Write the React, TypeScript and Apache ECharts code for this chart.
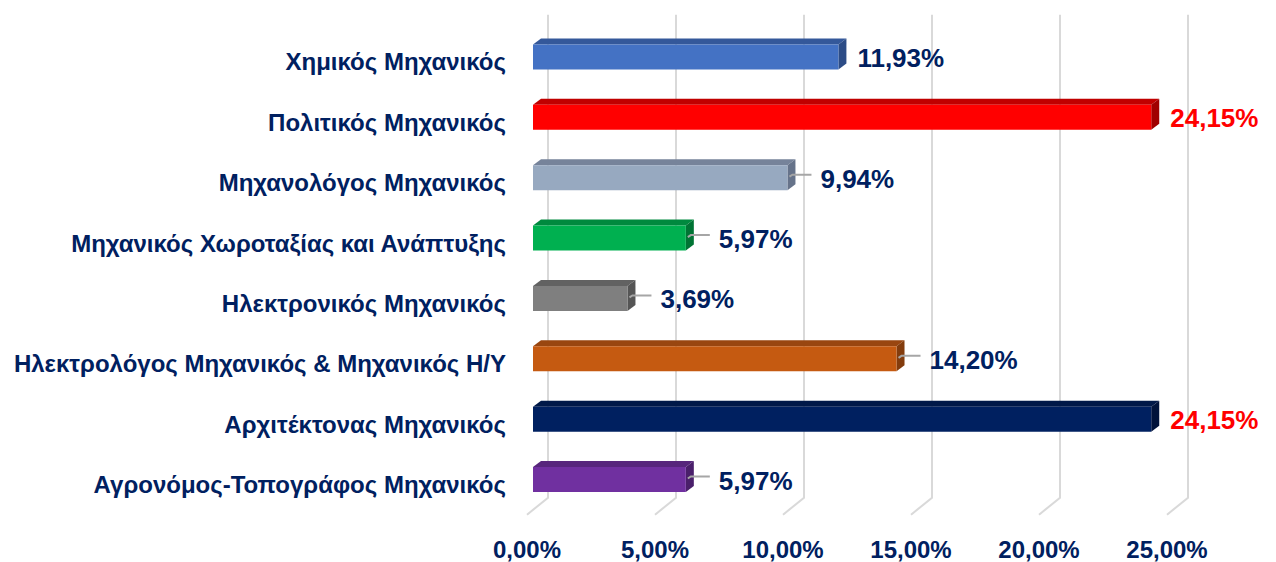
import React, { useEffect, useRef } from "react";
import * as echarts from "echarts";

const categories = [
  "Χημικός Μηχανικός",
  "Πολιτικός Μηχανικός",
  "Μηχανολόγος Μηχανικός",
  "Μηχανικός Χωροταξίας και Ανάπτυξης",
  "Ηλεκτρονικός Μηχανικός",
  "Ηλεκτρολόγος Μηχανικός & Μηχανικός Η/Υ",
  "Αρχιτέκτονας Μηχανικός",
  "Αγρονόμος-Τοπογράφος Μηχανικός",
];
const values = [11.93, 24.15, 9.94, 5.97, 3.69, 14.2, 24.15, 5.97];
const tickValues = [0, 5, 10, 15, 20, 25];

const frontColors = ["#4472C4", "#FF0000", "#97A9C0", "#00B050", "#7F7F7F", "#C55A11", "#002060", "#7030A0"];
const topColors = ["#34589A", "#C00000", "#76839A", "#00893E", "#626262", "#994610", "#001848", "#57267C"];
const sideColors = ["#2C4C86", "#A00000", "#66738A", "#007434", "#555555", "#833C0D", "#00123A", "#4A1F6B"];
const leaders = [false, false, true, true, true, true, false, true];

const NAVY = "#002060";
const FONT = '"Liberation Sans", Arial, sans-serif';

const fmt = (v: number) => v.toFixed(2).replace(".", ",") + "%";

export default function App() {
  const ref = useRef<HTMLDivElement>(null);
  useEffect(() => {
    document.body.style.margin = "0";
    const chart = echarts.init(ref.current!, null, { renderer: "svg" });
    const maxV = Math.max(...values);
    chart.setOption({
      animation: false,
      backgroundColor: "#ffffff",
      grid: { left: 533, width: 640, top: 26.8, height: 482.9, containLabel: false },
      xAxis: {
        type: "value",
        min: 0,
        max: 25,
        interval: 5,
        axisLine: { show: false },
        axisTick: { show: false },
        splitLine: { show: false },
        axisLabel: {
          formatter: (v: number) => fmt(v),
          color: NAVY,
          fontWeight: "bold",
          fontSize: 24,
          fontFamily: FONT,
          margin: 28,
          padding: [0, 12, 0, 0],
        },
      },
      yAxis: {
        type: "category",
        data: categories,
        inverse: true,
        axisLine: { show: false },
        axisTick: { show: false },
        splitLine: { show: false },
        axisLabel: { show: false },
      },
      series: [
        {
          type: "custom",
          z: 1,
          clip: false,
          silent: true,
          data: tickValues.map((v) => [v, 0]),
          renderItem: (params: any, api: any) => {
            const cs = params.coordSys;
            const p = api.coord([api.value(0), 0]);
            const topY = cs.y - 12;
            const botY = cs.y + cs.height - 12;
            return {
              type: "polyline",
              shape: {
                points: [
                  [p[0] + 15, topY],
                  [p[0] + 15, botY],
                  [p[0] - 6, botY + 17],
                ],
              },
              style: { stroke: "#D9D9D9", lineWidth: 2, fill: "none" },
            };
          },
        },
        {
          type: "custom",
          z: 2,
          clip: false,
          data: values.map((v, i) => [v, i]),
          renderItem: (params: any, api: any) => {
            const v = api.value(0);
            const i = params.dataIndex;
            const p0 = api.coord([0, i]);
            const p1 = api.coord([v, i]);
            const yc = p0[1];
            const x0 = p0[0];
            const x1 = p1[0];
            const h = 25;
            const yt = yc - h / 2;
            const yb = yc + h / 2;
            const dx = 8;
            const dy = 6;
            const children: any[] = [
              {
                type: "polygon",
                shape: { points: [[x0, yt], [x0 + dx, yt - dy], [x1 + dx, yt - dy], [x1, yt]] },
                style: { fill: topColors[i] },
              },
              {
                type: "polygon",
                shape: { points: [[x1, yt], [x1 + dx, yt - dy], [x1 + dx, yb - dy], [x1, yb]] },
                style: { fill: sideColors[i] },
              },
              {
                type: "rect",
                shape: { x: x0, y: yt, width: x1 - x0, height: h },
                style: { fill: frontColors[i] },
              },
              {
                type: "text",
                style: {
                  text: categories[i],
                  x: x0 - 27,
                  y: yc + 5,
                  align: "right",
                  verticalAlign: "middle",
                  fill: NAVY,
                  fontSize: 24,
                  fontWeight: "bold",
                  fontFamily: FONT,
                },
              },
            ];
            let lx = x1 + 19;
            if (leaders[i]) {
              children.push({
                type: "polyline",
                shape: { points: [[x1 + 2, yc - 1], [x1 + 5, yc - 3], [x1 + 24, yc - 3]] },
                style: { stroke: "#A6A6A6", lineWidth: 2, fill: "none" },
              });
              lx = x1 + 33;
            }
            children.push({
              type: "text",
              style: {
                text: fmt(v),
                x: lx,
                y: yc + 1,
                align: "left",
                verticalAlign: "middle",
                fill: v === maxV ? "#FF0000" : NAVY,
                fontSize: 26,
                fontWeight: "bold",
                fontFamily: FONT,
              },
            });
            return { type: "group", children };
          },
        },
      ],
    });
    return () => chart.dispose();
  }, []);
  return <div ref={ref} style={{ width: 1276, height: 562 }} />;
}
